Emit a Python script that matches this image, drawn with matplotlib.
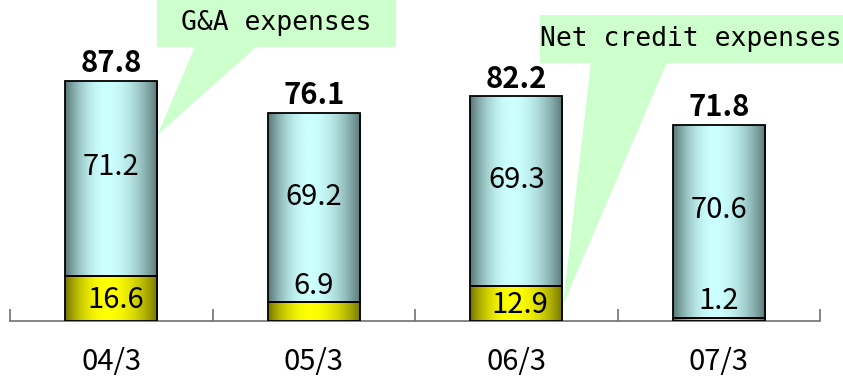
import numpy as np
import matplotlib.pyplot as plt
from matplotlib.patches import Rectangle, Polygon
from matplotlib.colors import LinearSegmentedColormap

periods = ['04/3', '05/3', '06/3', '07/3']
net_credit = [16.6, 6.9, 12.9, 1.2]
gna = [71.2, 69.2, 69.3, 70.6]
totals = [87.8, 76.1, 82.2, 71.8]

num_font = 'Noto Sans CJK JP'
mono_font = 'DejaVu Sans Mono'

fig = plt.figure(figsize=(8.43, 3.78), dpi=100)
ax = fig.add_axes([10 / 843, 57 / 378, 810 / 843, 321 / 378])

x = np.arange(len(periods))
width = 0.455

# cylinder-style shading across each bar
t = np.linspace(0, 1, 256)
shade = np.where(t < 0.45, 1 - ((0.45 - t) / 0.45) ** 2, 1 - ((t - 0.45) / 0.55) ** 2)
shade = shade.reshape(1, -1)
blue_cmap = LinearSegmentedColormap.from_list('blu', ['#587676', '#ccffff'])
yellow_cmap = LinearSegmentedColormap.from_list('yel', ['#747400', '#ffff00'])

bars_y = ax.bar(x, net_credit, width, facecolor='none', edgecolor='black',
                linewidth=1.3, zorder=3)
bars_b = ax.bar(x, gna, width, bottom=net_credit, facecolor='none',
                edgecolor='black', linewidth=1.3, zorder=3)

for bars, cmap in [(bars_y, yellow_cmap), (bars_b, blue_cmap)]:
    for p in bars:
        x0, y0 = p.get_x(), p.get_y()
        im = ax.imshow(shade, cmap=cmap, vmin=0, vmax=1, aspect='auto',
                       extent=[x0, x0 + p.get_width(), y0, y0 + p.get_height()],
                       zorder=2, interpolation='bilinear')
        im.set_clip_path(p)

ax.set_xlim(-0.5, 3.5)
ax.set_ylim(0, 117.4)
ax.set_aspect('auto')

for s in ['top', 'left', 'right']:
    ax.spines[s].set_visible(False)
ax.spines['bottom'].set_color('#707070')
ax.spines['bottom'].set_linewidth(1.2)
ax.set_yticks([])
ax.set_xticks(x)
ax.set_xticklabels(periods, fontsize=21, family=num_font)
ax.tick_params(axis='x', which='major', length=0, pad=19)
ax.set_xticks(np.arange(-0.5, 4, 1), minor=True)
ax.tick_params(axis='x', which='minor', direction='in', length=9,
               color='#707070', width=1.2)

# segment and total labels
for i in range(len(periods)):
    ax.text(x[i], totals[i] + 1.0, f'{totals[i]:.1f}', ha='center', va='bottom',
            fontsize=21, fontweight='bold', family=num_font, zorder=5)
    ax.text(x[i], net_credit[i] + gna[i] / 2 + 4.0, f'{gna[i]:.1f}', ha='center',
            va='center', fontsize=21, family=num_font, zorder=5)
    if net_credit[i] >= 10:
        ax.text(x[i] + 0.02, net_credit[i] / 2 - 0.5, f'{net_credit[i]:.1f}',
                ha='center', va='center', fontsize=21, family=num_font, zorder=5)
    else:
        ax.text(x[i], net_credit[i] + 0.5, f'{net_credit[i]:.1f}', ha='center',
                va='bottom', fontsize=21, family=num_font, zorder=5)

# callouts
green = '#ccffcc'
ax.add_patch(Rectangle((0.226, 100.2), 1.18, 17.4, facecolor=green,
                       edgecolor='none', clip_on=False, zorder=1))
ax.add_patch(Polygon([(0.414, 100.5), (0.72, 100.5), (0.228, 68.0)],
                     facecolor=green, edgecolor='none', clip_on=False, zorder=1))
ax.text(0.816, 109.0, 'G&A expenses', ha='center', va='center', fontsize=19,
        family=mono_font, zorder=5)

ax.add_patch(Rectangle((2.117, 94.3), 1.5, 17.6, facecolor=green,
                       edgecolor='none', clip_on=False, zorder=1))
ax.add_patch(Polygon([(2.369, 94.6), (2.744, 94.6), (2.231, 5.9)],
                     facecolor=green, edgecolor='none', clip_on=False, zorder=1))
ax.text(2.117, 103.0, 'Net credit expenses', ha='left', va='center',
        fontsize=19, family=mono_font, zorder=5, clip_on=False)

fig.savefig('out.png', dpi=100)
